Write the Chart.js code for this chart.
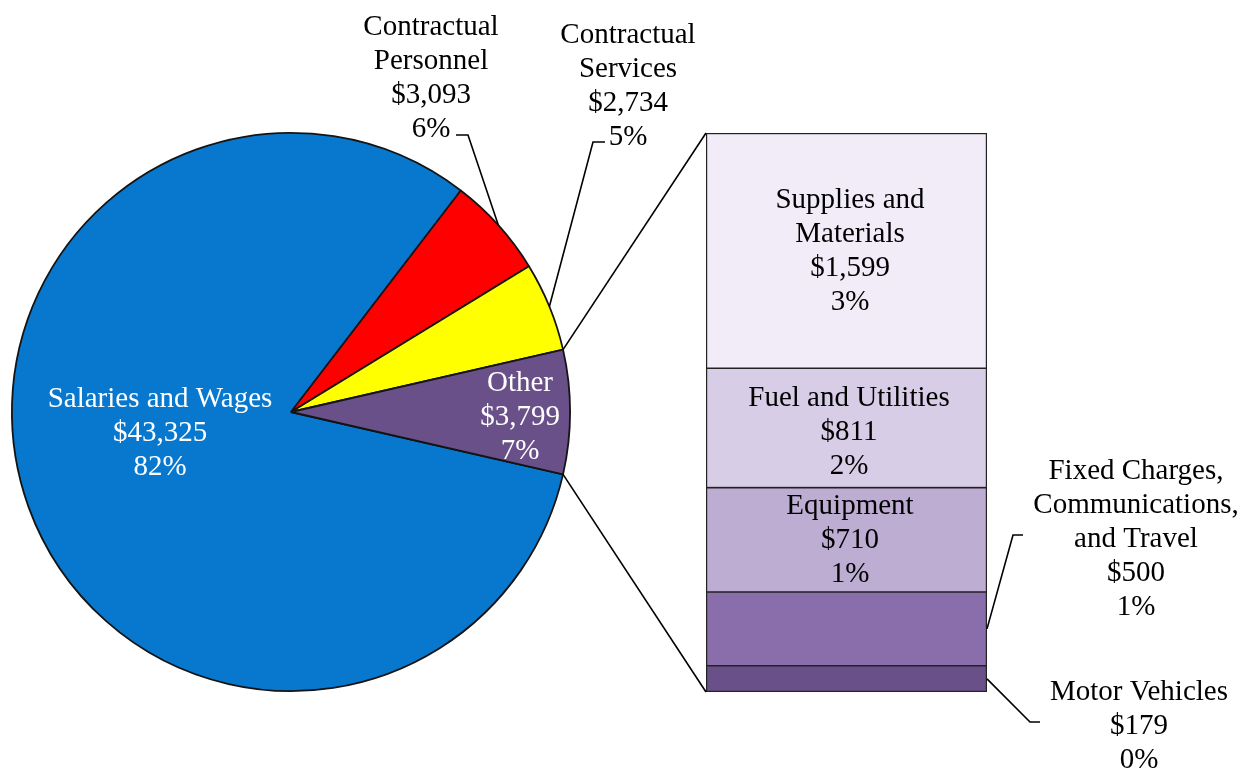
<!DOCTYPE html>
<html>
<head>
<meta charset="utf-8">
<script src="https://cdn.jsdelivr.net/npm/chart.js@4/dist/chart.umd.min.js"></script>
<style>
  html, body { margin: 0; padding: 0; background: #ffffff; }
  #wrap { position: relative; width: 1248px; height: 770px; background: #ffffff; }
  #wrap canvas { position: absolute; left: 0; top: 0; }
</style>
</head>
<body>
<div id="wrap">
  <canvas id="pie" width="1248" height="770"></canvas>
  <canvas id="bar" width="1248" height="770"></canvas>
</div>
<script>
// ---- Data ----
const categories = ['Salaries and Wages', 'Contractual Personnel', 'Contractual Services', 'Other'];
const values = [43325, 3093, 2734, 3799];
const pieColors = ['#0878CE', '#FF0000', '#FFFF00', '#6A5088'];

// breakdown of "Other" (bottom to top of the stacked bar)
const otherCategories = ['Motor Vehicles', 'Fixed Charges, Communications, and Travel', 'Equipment', 'Fuel and Utilities', 'Supplies and Materials'];
const otherValues = [179, 500, 710, 811, 1599];
const barColors = ['#6A5088', '#8A6DAB', '#BEADD3', '#D8CDE6', '#F2ECF8'];

// ---- helpers ----
const grandTotal = values.reduce((a, b) => a + b, 0);
const otherTotal = otherValues.reduce((a, b) => a + b, 0);
const money = v => '$' + v.toLocaleString('en-US');
const pct = v => Math.round(v / grandTotal * 100) + '%';
const FONT = '29px "Liberation Serif", "Times New Roman", serif';
const LINE_H = 34;
const DY = 2;

function drawLines(ctx, lines, x, y0, color) {
  ctx.save();
  ctx.font = FONT;
  ctx.fillStyle = color;
  ctx.textAlign = 'center';
  ctx.textBaseline = 'middle';
  lines.forEach((t, i) => ctx.fillText(t, x, y0 + DY + i * LINE_H));
  ctx.restore();
}
function polyline(ctx, pts) {
  ctx.save();
  ctx.strokeStyle = '#000000';
  ctx.lineWidth = 1.6;
  ctx.beginPath();
  ctx.moveTo(pts[0][0], pts[0][1]);
  for (let i = 1; i < pts.length; i++) ctx.lineTo(pts[i][0], pts[i][1]);
  ctx.stroke();
  ctx.restore();
}
function arcPoint(arc, angle) {
  return [arc.x + arc.outerRadius * Math.cos(angle), arc.y + arc.outerRadius * Math.sin(angle)];
}

// Other slice centred on 3 o'clock: Salaries starts right after it
const otherIdx = categories.indexOf('Other');
const rotationDeg = 90 + (values[otherIdx] / grandTotal * 360) / 2;

// ---- Pie chart ----
const pieChart = new Chart(document.getElementById('pie'), {
  type: 'pie',
  data: {
    labels: categories,
    datasets: [{
      data: values,
      backgroundColor: pieColors,
      borderColor: '#141414',
      borderWidth: 1.8
    }]
  },
  options: {
    responsive: false,
    animation: false,
    rotation: rotationDeg,
    layout: { padding: { left: 11, top: 132, right: 677, bottom: 78 } },
    plugins: { legend: { display: false }, tooltip: { enabled: false } }
  }
});

// ---- Stacked bar (breakdown of Other) ----
const labelPlugin = {
  id: 'labels',
  afterDraw(chart) {
    const ctx = chart.ctx;
    const arcs = pieChart.getDatasetMeta(0).data;

    // pie labels
    drawLines(ctx, ['Salaries and Wages', money(values[0]), pct(values[0])], 160, 397, '#ffffff');
    drawLines(ctx, ['Other', money(values[3]), pct(values[3])], 520, 381, '#ffffff');
    drawLines(ctx, ['Contractual', 'Personnel', money(values[1]), pct(values[1])], 431, 25, '#000000');
    drawLines(ctx, ['Contractual', 'Services', money(values[2]), pct(values[2])], 628, 33, '#000000');

    // pie leader lines
    const a1 = arcs[1], a2 = arcs[2];
    polyline(ctx, [[456, 135], [468, 135], arcPoint(a1, (a1.startAngle + a1.endAngle) / 2)]);
    polyline(ctx, [[605, 142], [593, 142], arcPoint(a2, (a2.startAngle + a2.endAngle) / 2)]);

    // bar geometry
    const metas = otherValues.map((v, i) => chart.getDatasetMeta(i).data[0]);
    const first = metas[0];
    const barLeft = first.x - first.width / 2;
    const barRight = first.x + first.width / 2;
    const barBottom = first.base;
    const barTop = metas[metas.length - 1].y;

    // outer frame of the bar
    ctx.save();
    ctx.strokeStyle = '#222222';
    ctx.lineWidth = 1.2;
    ctx.strokeRect(barLeft + 0.6, barTop + 0.6, barRight - barLeft - 1.2, barBottom - barTop - 1.2);
    ctx.restore();

    // connector lines from Other slice to bar
    const ao = arcs[otherIdx];
    polyline(ctx, [arcPoint(ao, ao.startAngle), [barLeft, barTop]]);
    polyline(ctx, [arcPoint(ao, ao.endAngle), [barLeft, barBottom]]);

    // bar labels
    drawLines(ctx, ['Supplies and', 'Materials', money(otherValues[4]), pct(otherValues[4])], 850, 198, '#000000');
    drawLines(ctx, ['Fuel and Utilities', money(otherValues[3]), pct(otherValues[3])], 849, 396, '#000000');
    drawLines(ctx, ['Equipment', money(otherValues[2]), pct(otherValues[2])], 850, 504, '#000000');
    drawLines(ctx, ['Fixed Charges,', 'Communications,', 'and Travel', money(otherValues[1]), pct(otherValues[1])], 1136, 469, '#000000');
    drawLines(ctx, ['Motor Vehicles', money(otherValues[0]), pct(otherValues[0])], 1139, 690, '#000000');

    // bar leader lines
    const mid = el => (el.y + el.base) / 2;
    polyline(ctx, [[barRight, mid(metas[1])], [1013, 535], [1023, 535]]);
    polyline(ctx, [[barRight, mid(metas[0])], [1030, 722], [1040, 722]]);
  }
};

const barChart = new Chart(document.getElementById('bar'), {
  type: 'bar',
  data: {
    labels: ['Other'],
    datasets: otherCategories.map((name, i) => ({
      label: name,
      data: [otherValues[i]],
      backgroundColor: barColors[i],
      borderColor: '#222222',
      borderWidth: 1.1,
      borderSkipped: false,
      barPercentage: 1,
      categoryPercentage: 1
    }))
  },
  options: {
    responsive: false,
    animation: false,
    layout: { padding: { left: 706, top: 133, right: 261, bottom: 78 } },
    scales: {
      x: { stacked: true, display: false },
      y: { stacked: true, display: false, min: 0, max: otherTotal }
    },
    plugins: { legend: { display: false }, tooltip: { enabled: false } }
  },
  plugins: [labelPlugin]
});
</script>
</body>
</html>
